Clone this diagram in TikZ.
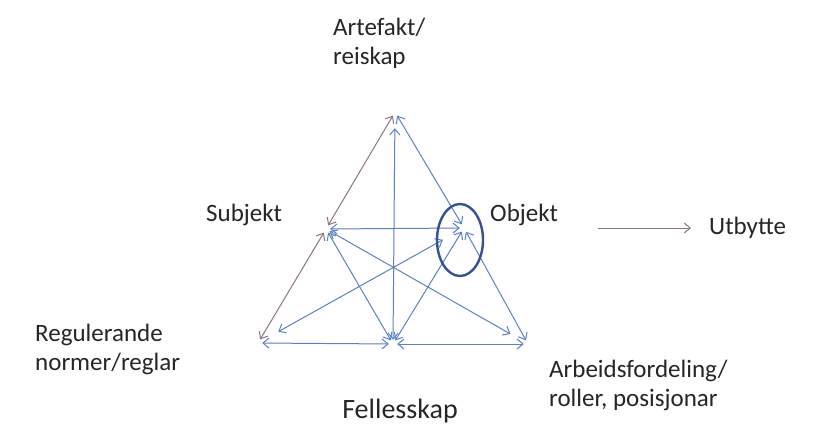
\documentclass[tikz,border=0pt]{standalone}
\usepackage{fontspec}
\setmainfont{Carlito}
\usetikzlibrary{arrows.meta}
\definecolor{linkblue}{RGB}{92,130,192}
\definecolor{linkbrown}{RGB}{140,118,128}
\definecolor{ringblue}{RGB}{52,82,150}
\tikzset{
	corner/.style={circle, minimum size=8pt, inner sep=0pt},
	label/.style={inner sep=0pt, align=left, font=\fontsize{25}{28.5}\selectfont, text=black!85},
	link/.style={{Straight Barb[length=6pt,width=10pt]}-{Straight Barb[length=6pt,width=10pt]}, linkblue, line width=1pt},
}
\begin{document}
\begin{tikzpicture}[x=1pt, y=-1pt]
	\useasboundingbox (0,0) rectangle (815,434);
	\fill[white] (0,0) rectangle (815,434);
	% corners of the triangle
	\node[corner] (T) at (395,112) {};
	\node[corner] (S) at (326,229) {};
	\node[corner] (O) at (464,228) {};
	\node[corner] (R) at (258,343) {};
	\node[corner] (F) at (393,344) {};
	\node[corner] (A) at (528,344) {};
	% texts
	\node[label, anchor=north west] (artefakt) at (333,18) {Artefakt/\\reiskap};
	\node[label, anchor=west] (subjekt) at (206,215) {Subjekt};
	\node[label, anchor=west] (objekt) at (490,215) {Objekt};
	\node[label, anchor=west] (utbytte) at (709,228) {Utbytte};
	\node[label, anchor=north west] (regler) at (35,324) {Regulerande\\normer/reglar};
	\node[label, anchor=north west] (arbeid) at (549,360) {Arbeidsfordeling/\\roller, posisjonar};
	\node[label, anchor=base, font=\fontsize{28}{32}\selectfont] (felles) at (400,418) {Fellesskap};
	% connectors
	\draw[link, linkbrown] (T) -- (S);
	\draw[link, shorten <=12pt] (T) -- (F);
	\draw[link] (T) -- (O);
	\draw[link] (S) -- (O);
	\draw[link, linkbrown] (S) -- (R);
	\draw[link] (S) -- (F);
	\draw[link, shorten >=16pt] (S) -- (A);
	\draw[link, shorten <=19pt, shorten >=20pt] (R) -- (O);
	\draw[link] (F) -- (O);
	\draw[link] (A) -- (O);
	\draw[link] (R) -- (F);
	\draw[link] (F) -- (A);
	\draw[ringblue, line width=2.4pt] (460,240) ellipse (23 and 36);
	\coordinate (start) at (598,228);
	\draw[-{Straight Barb[length=6pt,width=10pt]}, linkbrown, line width=1pt] (start) -- ([xshift=-18pt]utbytte.west);
\end{tikzpicture}
\end{document}
